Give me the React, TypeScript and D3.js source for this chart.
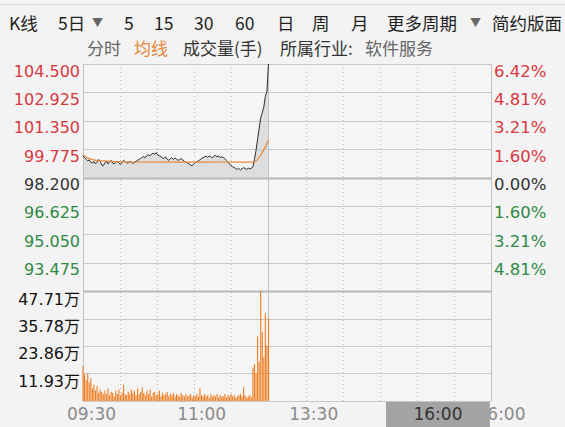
import React from "react";
import * as d3 from "d3";

const W = 565;
const H = 427;

// ---- data ----
const toolbarItems = ["K线", "5日", "▼", "5", "15", "30", "60", "日", "周", "月", "更多周期", "▼", "简约版面"];
const legendItems = ["分时", "均线", "成交量(手)", "所属行业:", "软件服务"];

const priceTicks = [104.5, 102.925, 101.35, 99.775, 98.2, 96.625, 95.05, 93.475];
const priceTickLabels = ["104.500", "102.925", "101.350", "99.775", "98.200", "96.625", "95.050", "93.475"];
const pctTickLabels = ["6.42%", "4.81%", "3.21%", "1.60%", "0.00%", "1.60%", "3.21%", "4.81%"];
const prevClose = 98.2;
const priceMin = 91.9;
const priceMax = 104.5;

const volTicks = [47.71, 35.78, 23.86, 11.93];
const volTickLabels = ["47.71万", "35.78万", "23.86万", "11.93万"];

const timeLabels = ["09:30", "11:00", "13:30", "16:00", "16:00"];
const timeLabelSlots = [0.23, 3.2, 6.22, 9.57, 11.27];
const slotCount = 11;
const daySlot = 5;

const prices = [
  99.40, 99.30, 99.22, 99.12, 99.18, 99.05, 99.00, 99.10, 98.95, 99.05,
  99.20, 99.10, 98.90, 98.85, 99.00, 99.12, 98.95, 99.05, 99.15, 99.00,
  98.95, 99.05, 99.10, 99.00, 98.92, 99.05, 99.15, 99.08, 99.02, 99.00,
  99.10, 99.05, 98.98, 99.05, 99.10, 99.15, 99.20, 99.26, 99.32, 99.36,
  99.30, 99.42, 99.46, 99.40, 99.50, 99.55, 99.48, 99.58, 99.45, 99.40,
  99.35, 99.30, 99.25, 99.35, 99.20, 99.15, 99.25, 99.30, 99.20, 99.28,
  99.22, 99.15, 99.20, 99.25, 99.18, 99.10, 99.05, 99.00, 98.95, 98.90,
  98.85, 98.95, 99.02, 99.08, 99.12, 99.18, 99.25, 99.30, 99.35, 99.38,
  99.32, 99.40, 99.35, 99.30, 99.38, 99.42, 99.35, 99.40, 99.30, 99.35,
  99.32, 99.25, 99.15, 99.05, 98.95, 98.85, 98.80, 98.75, 98.70, 98.65,
  98.70, 98.62, 98.68, 98.75, 98.70, 98.65, 98.72, 98.68, 98.70, 98.80,
  99.20, 99.70, 100.30, 100.90, 101.50, 101.80, 102.10, 102.70, 102.95, 104.50,
];

const avgIdx = [0, 4, 12, 30, 60, 90, 108, 111, 114, 117, 119];
const avgVal = [99.45, 99.25, 99.12, 99.06, 99.05, 99.06, 99.05, 99.12, 99.45, 99.9, 100.3];

const volumes = [
  15.2, 11.5, 9.0, 12.0, 8.0, 10.0, 5.5, 7.0, 4.5, 6.5,
  3.5, 5.0, 4.0, 3.0, 4.5, 3.0, 5.5, 2.5, 4.0, 3.5,
  2.0, 4.5, 3.0, 5.0, 2.5, 3.5, 7.0, 3.0, 2.5, 4.0,
  3.0, 5.0, 3.5, 4.5, 2.5, 5.5, 3.0, 4.0, 6.0, 3.5,
  2.5, 4.5, 3.0, 5.0, 2.0, 3.5, 4.0, 2.5, 3.0, 4.5,
  2.0, 3.5, 2.5, 3.0, 4.0, 2.0, 3.0, 2.5, 3.5, 2.0,
  3.0, 2.5, 2.0, 3.5, 2.5, 2.0, 3.0, 2.0, 2.5, 3.0,
  1.5, 2.5, 2.0, 3.0, 2.0, 5.5, 2.5, 2.0, 3.0, 2.0,
  2.5, 1.5, 3.0, 2.0, 2.5, 2.0, 3.0, 1.5, 2.5, 2.0,
  2.0, 3.0, 1.5, 2.5, 2.0, 3.0, 2.0, 2.5, 1.5, 2.0,
  2.5, 3.0, 2.0, 6.0, 2.5, 1.5, 2.0, 2.5, 1.8, 14.5,
  16.0, 12.0, 28.0, 17.0, 47.5, 30.0, 19.0, 38.0, 24.0, 36.0,
];

// ---- layout ----
const L = 83;
const R = 491;
const pTop = 64;
const pBot = 291;
const vBot = 401;

const RED = "#d8393f";
const GREEN = "#2e8a46";
const DARK = "#333333";
const GRID = "#c8c8c8";
const ORANGE = "#ef7c1e";
const NUM_FONT = "'DejaVu Sans', 'Noto Sans CJK SC', sans-serif";
const CJK_FONT = "'Noto Sans CJK SC', sans-serif";

export default function App() {
  const xSlot = d3.scaleLinear().domain([0, slotCount]).range([L, R]);
  const xIdx = d3.scaleLinear().domain([0, prices.length - 1]).range([xSlot(0), xSlot(daySlot)]);
  const yP = d3.scaleLinear().domain([priceMin, priceMax]).range([pBot, pTop]);
  const yV = d3.scaleLinear().domain([0, volTicks[0]]).range([vBot, pBot]);

  const line = d3.line<number>().x((_, i) => xIdx(i)).y((d) => yP(d));
  const area = d3
    .area<number>()
    .x((_, i) => xIdx(i))
    .y0(yP(prevClose))
    .y1((d) => yP(d));
  const avgLine = d3
    .line<number>()
    .x((_, i) => xIdx(avgIdx[i]))
    .y((d) => yP(d))
    .curve(d3.curveMonotoneX);

  const labelColor = (i: number) => (priceTicks[i] > prevClose ? RED : priceTicks[i] < prevClose ? GREEN : DARK);

  const dottedSlots = d3.range(1, slotCount).filter((s) => s !== daySlot);

  // toolbar x positions
  const tbX = [9, 58, 92, 124, 154, 194, 235, 277, 312, 351, 387, 470, 492];
  const lgX = [87, 134, 183, 280, 365];
  const lgColor = ["#666666", "#e8873a", DARK, DARK, "#666666"];

  return (
    <svg
      width={W}
      height={H}
      style={{ position: "absolute", left: 0, top: 0, background: "#f3f3f3", display: "block" }}
    >
      <rect x={0} y={0} width={W} height={H} fill="#f3f3f3" />
      <line x1={0} x2={W} y1={4.5} y2={4.5} stroke="#d6d6d6" />

      {/* toolbar */}
      {toolbarItems.map((t, i) => (
        <text
          key={"tb" + i}
          x={tbX[i]}
          y={22}
          dominantBaseline="central"
          fontFamily={CJK_FONT}
          fontSize={t === "▼" ? 11 : 17.5}
          fill={t === "▼" ? "#666" : "#1f1f1f"}
        >
          {t}
        </text>
      ))}
      {legendItems.map((t, i) => (
        <text
          key={"lg" + i}
          x={lgX[i]}
          y={47}
          dominantBaseline="central"
          fontFamily={CJK_FONT}
          fontSize={17}
          fill={lgColor[i]}
        >
          {t}
        </text>
      ))}

      {/* plot background */}
      <rect x={L} y={pTop} width={R - L} height={vBot - pTop} fill="#f5f5f5" />

      {/* vertical grid */}
      {dottedSlots.map((s) => (
        <line
          key={"vs" + s}
          x1={Math.round(xSlot(s)) + 0.5}
          x2={Math.round(xSlot(s)) + 0.5}
          y1={pTop}
          y2={vBot}
          stroke="#bdbdbd"
          strokeDasharray="1,3"
        />
      ))}

      {/* price area */}
      <path d={area(prices) || ""} fill="#dedede" />

      {/* horizontal price grid */}
      {priceTicks.map((t, i) => (
        <line
          key={"hp" + i}
          x1={L}
          x2={R}
          y1={Math.round(yP(t)) + 0.5}
          y2={Math.round(yP(t)) + 0.5}
          stroke={t === prevClose ? "#b8b8b8" : GRID}
          strokeWidth={t === prevClose ? 2 : 1}
        />
      ))}
      {volTicks.slice(1).map((t, i) => (
        <line
          key={"hv" + i}
          x1={L}
          x2={R}
          y1={Math.round(yV(t)) + 0.5}
          y2={Math.round(yV(t)) + 0.5}
          stroke={GRID}
        />
      ))}
      <line x1={L} x2={R} y1={pBot + 0.5} y2={pBot + 0.5} stroke="#b8b8b8" strokeWidth={2} />
      <line x1={L} x2={R} y1={vBot + 0.5} y2={vBot + 0.5} stroke={GRID} />

      {/* vertical solid lines */}
      {[0, daySlot, slotCount].map((s) => (
        <line
          key={"vl" + s}
          x1={Math.round(xSlot(s)) + 0.5}
          x2={Math.round(xSlot(s)) + 0.5}
          y1={pTop}
          y2={vBot}
          stroke="#c2c2c2"
        />
      ))}

      {/* volume bars */}
      {volumes.map((v, i) => (
        <rect
          key={"vb" + i}
          x={xIdx(i) - 0.5}
          y={yV(v)}
          width={1.1}
          height={vBot - yV(v)}
          fill={ORANGE}
        />
      ))}

      {/* lines */}
      <path d={line(prices) || ""} fill="none" stroke="#2e2e2e" strokeWidth={1} />
      <path d={avgLine(avgVal) || ""} fill="none" stroke="#e8873a" strokeWidth={1.2} />

      {/* left axis labels */}
      {priceTicks.map((t, i) => (
        <text
          key={"pl" + i}
          x={80}
          y={yP(t) + 7}
          textAnchor="end"
          dominantBaseline="central"
          fontFamily={NUM_FONT}
          fontSize={16}
          fill={labelColor(i)}
        >
          {priceTickLabels[i]}
        </text>
      ))}
      {priceTicks.map((t, i) => (
        <text
          key={"pr" + i}
          x={494}
          y={yP(t) + 7}
          dominantBaseline="central"
          fontFamily={NUM_FONT}
          fontSize={16.5}
          fill={labelColor(i)}
        >
          {pctTickLabels[i]}
        </text>
      ))}
      {volTicks.map((t, i) => (
        <text
          key={"vlb" + i}
          x={80}
          y={yV(t) + 8}
          textAnchor="end"
          dominantBaseline="central"
          fontFamily={NUM_FONT}
          fontSize={16}
          fill="#111"
        >
          {volTickLabels[i]}
        </text>
      ))}

      {/* time axis */}
      {timeLabels.map((t, i) =>
        i === 3 ? null : (
          <text
            key={"tl" + i}
            x={xSlot(timeLabelSlots[i])}
            y={414}
            textAnchor="middle"
            dominantBaseline="central"
            fontFamily={NUM_FONT}
            fontSize={17}
            fill="#8a8a8a"
          >
            {t}
          </text>
        )
      )}
      <rect x={xSlot(8.17)} y={402} width={xSlot(10.97) - xSlot(8.17)} height={H - 402} fill="#a3a3a3" />
      <text
        x={xSlot(timeLabelSlots[3])}
        y={414}
        textAnchor="middle"
        dominantBaseline="central"
        fontFamily={NUM_FONT}
        fontSize={17}
        fill="#333"
      >
        {timeLabels[3]}
      </text>
    </svg>
  );
}
